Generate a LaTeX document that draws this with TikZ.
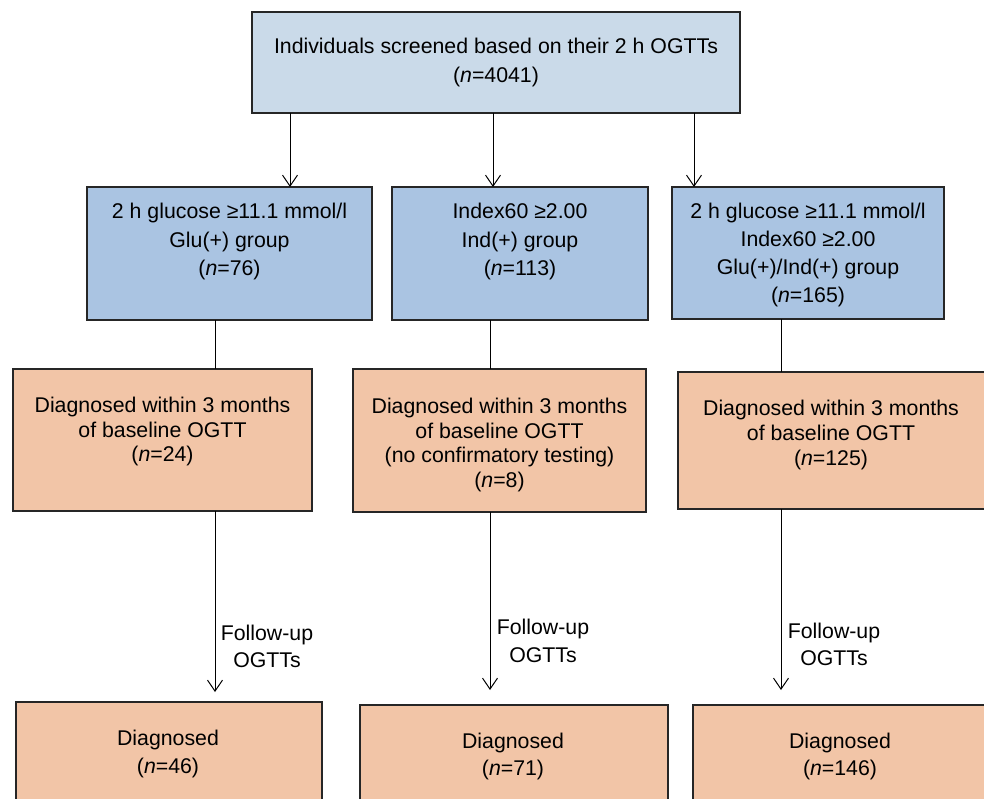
\documentclass[tikz,border=0pt]{standalone}
\usepackage{fontspec}
\setmainfont{Liberation Sans}
\usetikzlibrary{arrows.meta}
\definecolor{topfill}{HTML}{CADAE9}
\definecolor{bluefill}{HTML}{AAC4E2}
\definecolor{orfill}{HTML}{F2C5A7}
\definecolor{edgecol}{HTML}{262626}
\begin{document}
\begin{tikzpicture}[x=1pt,y=-1pt,
  box/.style={draw=edgecol, line width=1.2pt, inner sep=0pt, outer sep=0pt},
  topbox/.style={box, fill=topfill},
  bluebox/.style={box, fill=bluefill},
  orbox/.style={box, fill=orfill},
  txt/.style={align=center, inner sep=0pt, font=\fontsize{21.3}{#1}\selectfont},
  arr/.style={line width=1pt, -{Straight Barb[length=11pt,width=15pt]}},
  ln/.style={line width=1pt}]
\useasboundingbox (0,0) rectangle (984,799);
\clip (0,0) rectangle (984,799);
% boxes
\node[topbox, minimum width=488pt, minimum height=101pt] (top) at (496,62.5) {};
\node[bluebox, minimum width=285pt, minimum height=133pt] (A) at (229.5,253.5) {};
\node[bluebox, minimum width=256pt, minimum height=133pt] (B) at (520,253.5) {};
\node[bluebox, minimum width=272pt, minimum height=132pt] (C) at (808,253) {};
\node[orbox, minimum width=299pt, minimum height=142pt] (D) at (162.5,440) {};
\node[orbox, minimum width=293pt, minimum height=143pt] (E) at (499.5,440.5) {};
\node[orbox, minimum width=308pt, minimum height=137pt] (F) at (832,440.5) {};
\node[orbox, minimum width=306pt, minimum height=128pt] (G) at (169,766) {};
\node[orbox, minimum width=308pt, minimum height=125pt] (H) at (514,767.5) {};
\node[orbox, minimum width=295pt, minimum height=125pt] (I) at (840.5,767.5) {};
% texts
\node[txt=29] (ttop) at (496,62.5) {Individuals screened based on their 2 h OGTTs\\(\textit{n}=4041)};
\node[txt=28.5] (tA) at (229.5,241.5) {2 h glucose ≥11.1 mmol/l\\Glu(+) group\\(\textit{n}=76)};
\node[txt=28.5] (tB) at (520,241.5) {Index60 ≥2.00\\Ind(+) group\\(\textit{n}=113)};
\node[txt=28] (tC) at (808,255) {2 h glucose ≥11.1 mmol/l\\Index60 ≥2.00\\Glu(+)/Ind(+) group\\(\textit{n}=165)};
\node[txt=24.5] (tD) at (162.5,431.5) {Diagnosed within 3 months\\of baseline OGTT\\(\textit{n}=24)};
\node[txt=24.7] (tE) at (499.5,445) {Diagnosed within 3 months\\of baseline OGTT\\(no confirmatory testing)\\(\textit{n}=8)};
\node[txt=25] (tF) at (831,435) {Diagnosed within 3 months\\of baseline OGTT\\(\textit{n}=125)};
\node[txt=28] (tG) at (168,753.5) {Diagnosed\\(\textit{n}=46)};
\node[txt=27] (tH) at (513,756.5) {Diagnosed\\(\textit{n}=71)};
\node[txt=27] (tI) at (840,756.5) {Diagnosed\\(\textit{n}=146)};
\node[txt=27] (fu1) at (267,646.5) {Follow-up\\OGTTs};
\node[txt=28] (fu2) at (543,641) {Follow-up\\OGTTs};
\node[txt=27] (fu3) at (834,644.5) {Follow-up\\OGTTs};
% connectors
\draw[arr] ([xshift=38pt]top.south west) -- ([xshift=38pt]top.south west |- A.north);
\draw[arr] ([xshift=241pt]top.south west) -- ([xshift=241pt]top.south west |- B.north);
\draw[arr] ([xshift=442pt]top.south west) -- ([xshift=442pt]top.south west |- C.north);
\draw[ln] ([xshift=128pt]A.south west) -- ([xshift=128pt]A.south west |- D.north);
\draw[ln] ([xshift=98pt]B.south west) -- ([xshift=98pt]B.south west |- E.north);
\draw[ln] ([xshift=109pt]C.south west) -- ([xshift=109pt]C.south west |- F.north);
\draw[arr] ([xshift=202pt]D.south west) -- ([xshift=202pt,yshift=10pt]D.south west |- G.north);
\draw[arr] ([xshift=137pt]E.south west) -- ([xshift=137pt,yshift=15pt]E.south west |- H.north);
\draw[arr] ([xshift=103pt]F.south west) -- ([xshift=103pt,yshift=15pt]F.south west |- I.north);
\end{tikzpicture}
\end{document}
